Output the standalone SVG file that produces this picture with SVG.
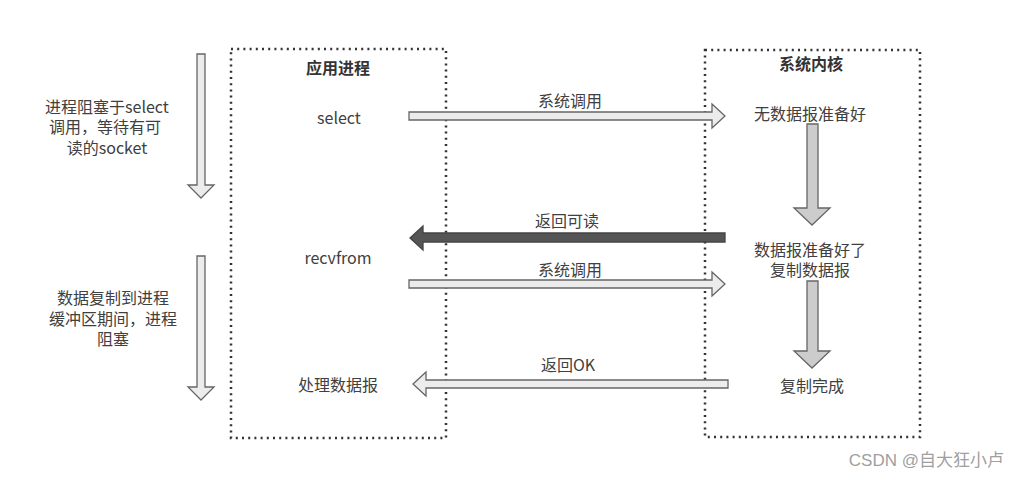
<svg xmlns="http://www.w3.org/2000/svg" width="1019" height="486" viewBox="0 0 1019 486">
<style>
text{font-family:"Noto Sans CJK SC","Noto Sans",sans-serif;font-size:16px;fill:#404040;text-anchor:middle}
.b{font-weight:bold;fill:#333}
.box{fill:none;stroke:#333;stroke-width:2.5;stroke-dasharray:2 4.2}
.la{fill:#ececec;stroke:#666;stroke-width:1.3}
.ka{fill:#cccccc;stroke:#666;stroke-width:1.3}
.da{fill:#555;stroke:#444;stroke-width:1.3}
.wm{font-family:"Liberation Sans","Noto Sans CJK SC",sans-serif;fill:#a0a0a0;text-anchor:end;font-size:17px}
</style>
<rect width="1019" height="486" fill="#fff"/>
<g id="app-process">
<rect class="box" x="231" y="49" width="215" height="389"/>
<text class="b" x="338" y="74">应用进程</text>
<text x="339" y="124">select</text>
<text x="338" y="264">recvfrom</text>
<text x="338" y="391">处理数据报</text>
</g>
<g id="kernel">
<rect class="box" x="705" y="50" width="215" height="387"/>
<text class="b" x="811" y="70">系统内核</text>
<text x="810" y="120">无数据报准备好</text>
<text x="810" y="256">数据报准备好了<tspan x="810" y="276">复制数据报</tspan></text>
<text x="812" y="392">复制完成</text>
</g>
<g id="left-notes">
<text x="107" y="113">进程阻塞于select<tspan x="105" y="133">调用，等待有可</tspan><tspan x="107" y="154">读的socket</tspan></text>
<text x="113" y="304">数据复制到进程<tspan x="113" y="325">缓冲区期间，进程</tspan><tspan x="113" y="345">阻塞</tspan></text>
</g>
<g id="connectors">
<polygon class="la" points="197,54 205,54 205,185 214,185 201,198 188,185 197,185"/>
<polygon class="la" points="197,256 205,256 205,387 214,387 201,400 188,387 197,387"/>
<polygon class="la" points="409,112 712,112 712,104 725,116 712,128 712,120 409,120"/>
<polygon class="da" points="725,233 423,233 423,226 410,238 423,250 423,242 725,242"/>
<polygon class="la" points="409,280 712,280 712,272 725,284 712,296 712,288 409,288"/>
<polygon class="la" points="728,380 426,380 426,372 413,384 426,396 426,388 728,388"/>
<polygon class="ka" points="807,124 818,124 818,208 830,208 812,225 794,208 807,208"/>
<polygon class="ka" points="807,281 818,281 818,351 830,351 812,368 794,351 807,351"/>
<text x="570" y="107">系统调用</text>
<text x="567" y="227">返回可读</text>
<text x="570" y="276">系统调用</text>
<text x="568" y="371">返回OK</text>
</g>
<text class="wm" x="1004" y="466">CSDN @自大狂小卢</text>
</svg>
